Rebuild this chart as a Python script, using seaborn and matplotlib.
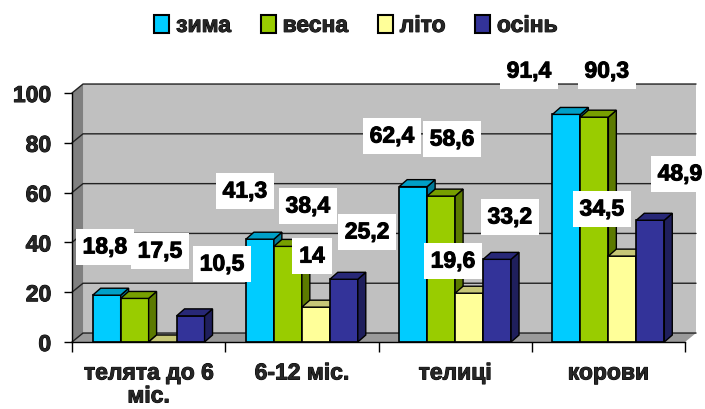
import numpy as np
import pandas as pd
import seaborn as sns
import matplotlib
matplotlib.use("Agg")
import matplotlib.pyplot as plt
import matplotlib.patheffects as pe
from matplotlib.patches import Polygon, Patch, Rectangle
from matplotlib.colors import to_rgb

# ---- data -------------------------------------------------------------
categories = ["телята до 6\nміс.", "6-12 міс.", "телиці", "корови"]
seasons = ["зима", "весна", "літо", "осінь"]
winter = [18.8, 41.3, 62.4, 91.4]
spring = [17.5, 38.4, 58.6, 90.3]
summer = [0.0, 14.0, 19.6, 34.5]
autumn = [10.5, 25.2, 33.2, 48.9]
series = [winter, spring, summer, autumn]
# which values carry a printed label (the zero summer bar has none)
labelled = [[True] * 4, [True] * 4, [False, True, True, True], [True] * 4]

# label box centres: x in category units, y in value units
label_x = [[-0.285, 0.629, 1.588, 2.482],
           [0.074, 1.040, 1.980, 2.990],
           [None, 1.066, 1.986, 2.958],
           [0.479, 1.425, 2.358, 3.467]]
label_y = [[38.2, 60.6, 82.7, 108.8],
           [36.5, 54.6, 81.5, 108.8],
           [None, 34.5, 32.5, 53.4],
           [31.3, 44.2, 50.2, 67.5]]

colors = ["#00CCFF", "#99CC00", "#FFFF99", "#333399"]
y_ticks = [0, 20, 40, 60, 80, 100]

# ---- styling ----------------------------------------------------------
sns.set_theme(style="white")
plt.rcParams["font.family"] = ["Liberation Sans", "DejaVu Sans"]
plt.rcParams["font.weight"] = "bold"
FS = 16.5
heavy = [pe.withStroke(linewidth=0.7, foreground="black")]

df = pd.DataFrame({
    "cat": np.repeat(categories, len(seasons)),
    "season": seasons * len(categories),
    "value": [series[s][c] for c in range(len(categories)) for s in range(len(seasons))],
})

fig = plt.figure(figsize=(7.05, 4.10), dpi=100)
ax = fig.add_axes([72 / 705, 1 - 343 / 410, (685 - 72) / 705, (343 - 94) / 410])
ax.set_facecolor("none")

sns.barplot(data=df, x="cat", y="value", hue="season", hue_order=seasons,
            order=categories, palette=colors, saturation=1, width=0.73, gap=0,
            edgecolor="black", linewidth=1.2, legend=False, ax=ax)
bars = sorted([p for p in ax.patches if isinstance(p, Rectangle)], key=lambda p: p.get_x())

ax.set_xlim(-0.5, 3.5)
ax.set_ylim(0, 100)

# depth of the walls and of the columns (category units / value units)
dxw, dyw = 0.072, 3.6
dxb, dyb = 0.052, 2.8


def shade(c, f):
    r, g, b = to_rgb(c)
    return (r * f, g * f, b * f)


# back wall, side wall and floor
ax.add_patch(Polygon([(-0.5 + dxw, dyw), (3.5 + dxw, dyw), (3.5 + dxw, 100 + dyw),
                      (-0.5 + dxw, 100 + dyw)], closed=True, fc="#C0C0C0", ec="none",
                     zorder=0.5, clip_on=False))
ax.add_patch(Polygon([(-0.5, 0), (-0.5 + dxw, dyw), (-0.5 + dxw, 100 + dyw), (-0.5, 100)],
                     closed=True, fc="#808080", ec="none", zorder=0.6, clip_on=False))
ax.add_patch(Polygon([(-0.5, 0), (3.5, 0), (3.5 + dxw, dyw), (-0.5 + dxw, dyw)],
                     closed=True, fc="#9A9A9A", ec="none", zorder=0.6, clip_on=False))
for v in y_ticks:
    ax.plot([-0.5, -0.5 + dxw, 3.5 + dxw], [v, v + dyw, v + dyw], color="#222222",
            lw=1.0, zorder=0.8, clip_on=False, solid_joinstyle="miter")

# give every column a top and a side face
for i, p in enumerate(bars):
    x, w, h = p.get_x(), p.get_width(), p.get_height()
    fc = p.get_facecolor()
    z = 3 + i * 0.01
    p.set_zorder(z)
    ax.add_patch(Polygon([(x + w, 0), (x + w + dxb, dyb), (x + w + dxb, h + dyb), (x + w, h)],
                         closed=True, fc=shade(fc, 0.6), ec="black", lw=1.0,
                         zorder=z, clip_on=False))
    ax.add_patch(Polygon([(x, h), (x + w, h), (x + w + dxb, h + dyb), (x + dxb, h + dyb)],
                         closed=True, fc=shade(fc, 0.78), ec="black", lw=1.0,
                         zorder=z, clip_on=False))

# value labels
for s, vals in enumerate(series):
    for c, v in enumerate(vals):
        if not labelled[s][c]:
            continue
        txt = f"{v:g}".replace(".", ",")
        ax.text(label_x[s][c], label_y[s][c], txt, ha="center", va="center",
                fontsize=FS, fontweight="bold", color="black", zorder=10, clip_on=False,
                path_effects=heavy,
                bbox=dict(boxstyle="square,pad=0.3", fc="white", ec="none"))

# axes
for side in ("top", "right"):
    ax.spines[side].set_visible(False)
for side in ("left", "bottom"):
    ax.spines[side].set_color("black")
    ax.spines[side].set_linewidth(1.0)
    ax.spines[side].set_zorder(5)

ax.set_yticks(y_ticks)
ax.set_yticklabels([str(t) for t in y_ticks], fontsize=FS, fontweight="bold")
ax.tick_params(axis="y", left=True, length=6, width=1, pad=9, color="black")

ax.set_xticks(range(len(categories)))
ax.set_xticklabels(categories, fontsize=FS, fontweight="bold")
ax.set_xticks(np.arange(-0.5, 4.0, 1.0), minor=True)
ax.tick_params(axis="x", which="major", bottom=True, length=0, pad=14)
ax.tick_params(axis="x", which="minor", bottom=True, length=7, width=1, color="black")
for lbl in ax.get_xticklabels():
    lbl.set_linespacing(1.0)
for lbl in ax.get_xticklabels() + ax.get_yticklabels():
    lbl.set_path_effects(heavy)
ax.set_xlabel("")
ax.set_ylabel("")

handles = [Patch(facecolor=c, edgecolor="black", linewidth=1.5) for c in colors]
leg = fig.legend(handles, seasons, loc="upper center", bbox_to_anchor=(0.505, 1.0), ncol=4,
                 frameon=False, prop=dict(size=FS, weight="bold"), handlelength=0.65,
                 handleheight=0.8, handletextpad=0.3, columnspacing=1.3, borderaxespad=0.25)
for t in leg.get_texts():
    t.set_path_effects(heavy)

fig.savefig("out.png", dpi=100)
